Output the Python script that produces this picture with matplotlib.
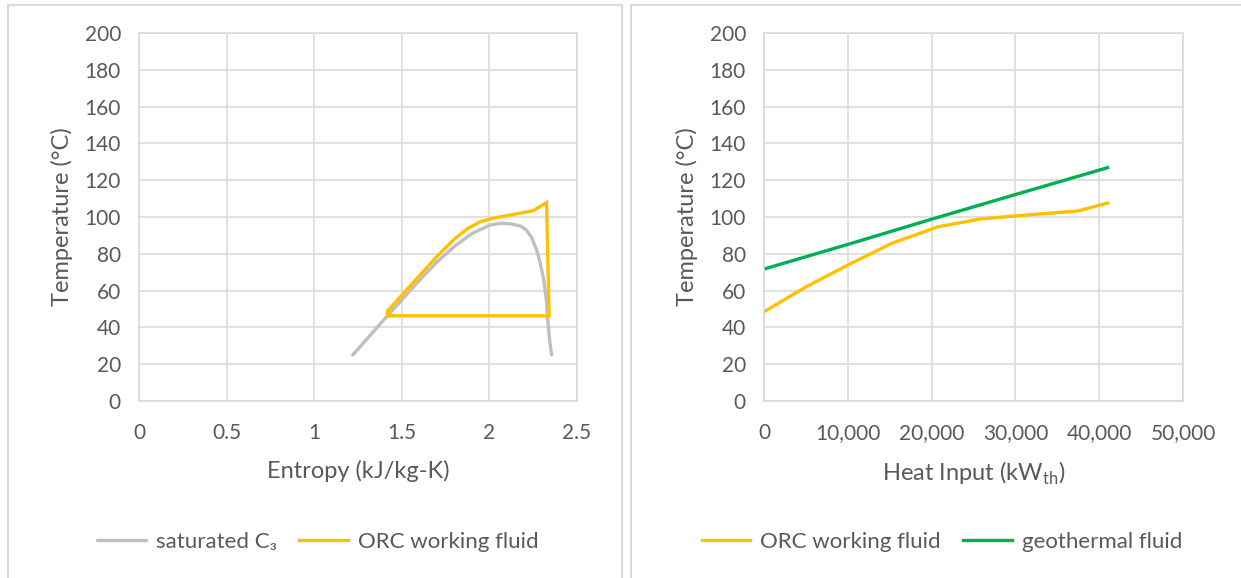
import matplotlib
matplotlib.use("Agg")
import matplotlib.pyplot as plt
from matplotlib.patches import Rectangle
from matplotlib.ticker import FuncFormatter

plt.rcParams['font.family'] = ['Lato', 'DejaVu Sans']
plt.rcParams['mathtext.fontset'] = 'custom'
plt.rcParams['mathtext.rm'] = 'Lato'

TEXT = '#595959'
GRID = '#d9d9d9'
C_SAT = '#bfbfbf'
C_ORC = '#ffc000'
C_GEO = '#00b050'

# T-s diagram: saturation dome of propane
sat_entropy = [1.22, 1.42, 1.50, 1.60, 1.70, 1.80, 1.90, 2.00, 2.06, 2.12, 2.18,
               2.21, 2.24, 2.27, 2.29, 2.31, 2.325, 2.335, 2.345, 2.355]
sat_temp = [25, 46.5, 55, 65.5, 75.5, 84, 91, 95.5, 96.6, 96.3, 95,
            93, 89, 82, 75, 66, 55, 42, 32, 25]

# ORC working fluid cycle on the T-s diagram
orc_entropy = [1.42, 1.42, 1.50, 1.60, 1.70, 1.80, 1.88, 1.95, 2.02, 2.25, 2.326, 2.341, 1.42]
orc_temp = [46.3, 49, 57.5, 68, 78.5, 88, 94, 97.5, 99.3, 103.4, 107.8, 46.3, 46.3]

# Heat input vs temperature
orc_heat = [0, 5000, 10060, 15240, 20800, 25780, 30000, 37500, 41000]
orc_heat_temp = [48.5, 62, 74, 85.7, 94.7, 98.9, 100.6, 103.3, 107.6]
geo_heat = [0, 10000, 20000, 30000, 41000]
geo_temp = [71.7, 85.1, 98.8, 112.2, 126.8]

y_ticks = list(range(0, 201, 20))
s_ticks = [0, 0.5, 1, 1.5, 2, 2.5]
q_ticks = [0, 10000, 20000, 30000, 40000, 50000]

fig = plt.figure(figsize=(12.41, 5.78), dpi=100)
W, H = 1241, 578

# chart container borders
for x0, x1 in [(8, 622), (631, 1300)]:
    fig.patches.append(Rectangle((x0 / W, -0.1), (x1 - x0) / W, 1.1 - 5 / H,
                                 transform=fig.transFigure, fill=False,
                                 edgecolor=GRID, linewidth=1.5))


def style(ax, xticks, xlim, xlabel):
    ax.set_ylim(0, 200)
    ax.set_xlim(*xlim)
    ax.set_yticks(y_ticks)
    ax.set_xticks(xticks)
    ax.grid(True, color=GRID, linewidth=1.1)
    ax.set_axisbelow(True)
    for sp in ax.spines.values():
        sp.set_color(GRID)
        sp.set_linewidth(1.1)
    ax.tick_params(length=0, labelsize=15, colors=TEXT)
    ax.tick_params(axis='y', pad=13)
    ax.tick_params(axis='x', pad=16)
    ax.set_ylabel('Temperature (°C)', fontsize=17, color=TEXT, labelpad=8)
    ax.set_xlabel(xlabel, fontsize=17, color=TEXT, labelpad=12)


legend_kw = dict(loc='center', ncol=2, frameon=False, fontsize=16, labelcolor=TEXT,
                 handlelength=2.2, handletextpad=0.45, columnspacing=1.0)

ax1 = fig.add_axes([139 / W, (H - 401) / H, 438 / W, 368 / H])
l1, = ax1.plot(sat_entropy, sat_temp, color=C_SAT, linewidth=2.4, solid_capstyle='round')
l2, = ax1.plot(orc_entropy, orc_temp, color=C_ORC, linewidth=2.4, solid_joinstyle='miter')
style(ax1, s_ticks, (0, 2.5), 'Entropy (kJ/kg-K)')
ax1.xaxis.set_major_formatter(FuncFormatter(lambda v, p: f'{v:g}'))
fig.legend([l1, l2], ['saturated C\u2083', 'ORC working fluid'],
           bbox_to_anchor=(318 / W, 1 - 542 / H), **legend_kw)

ax2 = fig.add_axes([764 / W, (H - 401) / H, 419 / W, 368 / H])
l3, = ax2.plot(orc_heat, orc_heat_temp, color=C_ORC, linewidth=2.4)
l4, = ax2.plot(geo_heat, geo_temp, color=C_GEO, linewidth=2.4)
style(ax2, q_ticks, (0, 50000), r'Heat Input (kW$_{\mathregular{th}}$)')
ax2.xaxis.set_major_formatter(FuncFormatter(lambda v, p: f'{int(v):,}'))
fig.legend([l3, l4], ['ORC working fluid', 'geothermal fluid'],
           bbox_to_anchor=(942 / W, 1 - 542 / H), **legend_kw)

fig.savefig('out.png', dpi=100, facecolor='white')
